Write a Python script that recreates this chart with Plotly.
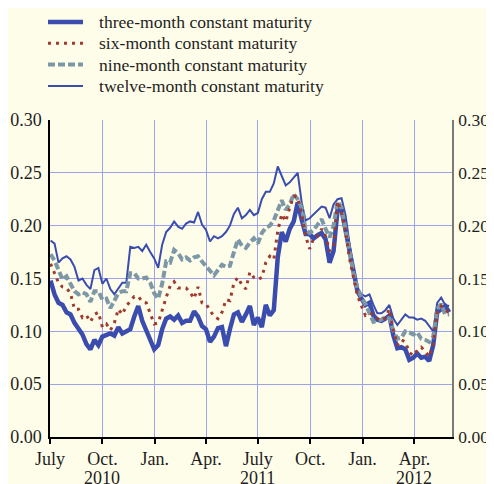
import pandas as pd
import plotly.graph_objects as go

# weekly observations (Fridays), July 2010 - May 2012
dates = pd.date_range("2010-07-02", periods=101, freq="7D")

three_month = [
    0.148, 0.135, 0.127, 0.125, 0.118, 0.116, 0.108, 0.102, 0.097, 0.088,
    0.083, 0.092, 0.087, 0.095, 0.097, 0.098, 0.096, 0.104, 0.098, 0.100,
    0.102, 0.114, 0.124, 0.110, 0.100, 0.093, 0.083, 0.087, 0.102, 0.112,
    0.114, 0.111, 0.115, 0.108, 0.110, 0.110, 0.119, 0.114, 0.105, 0.102,
    0.090, 0.095, 0.103, 0.104, 0.086, 0.102, 0.116, 0.118, 0.109, 0.116,
    0.124, 0.106, 0.113, 0.104, 0.125, 0.115, 0.120, 0.170, 0.194, 0.185,
    0.197, 0.204, 0.222, 0.206, 0.192, 0.192, 0.188, 0.191, 0.193, 0.187,
    0.165, 0.176, 0.215, 0.215, 0.195, 0.173, 0.155, 0.138, 0.131, 0.125,
    0.127, 0.115, 0.111, 0.110, 0.112, 0.115, 0.096, 0.084, 0.085, 0.083,
    0.073, 0.075, 0.079, 0.075, 0.076, 0.072, 0.087, 0.118, 0.121, 0.124,
    0.118,
]

six_month = [
    0.164, 0.155, 0.146, 0.142, 0.141, 0.136, 0.121, 0.121, 0.113, 0.115,
    0.109, 0.116, 0.118, 0.104, 0.107, 0.101, 0.108, 0.121, 0.116, 0.124,
    0.128, 0.133, 0.133, 0.128, 0.127, 0.116, 0.107, 0.108, 0.121, 0.132,
    0.143, 0.147, 0.141, 0.141, 0.141, 0.137, 0.131, 0.142, 0.127, 0.126,
    0.120, 0.114, 0.112, 0.118, 0.130, 0.129, 0.146, 0.151, 0.144, 0.140,
    0.156, 0.151, 0.149, 0.151, 0.165, 0.171, 0.168, 0.195, 0.211, 0.204,
    0.217, 0.228, 0.227, 0.211, 0.190, 0.178, 0.188, 0.190, 0.197, 0.190,
    0.176, 0.180, 0.223, 0.212, 0.195, 0.169, 0.151, 0.134, 0.124, 0.115,
    0.117, 0.116, 0.112, 0.110, 0.113, 0.121, 0.101, 0.087, 0.092, 0.090,
    0.080, 0.077, 0.082, 0.085, 0.081, 0.076, 0.088, 0.118, 0.124, 0.120,
    0.118,
]

nine_month = [
    0.173, 0.167, 0.158, 0.149, 0.152, 0.145, 0.138, 0.135, 0.137, 0.135,
    0.128, 0.138, 0.138, 0.130, 0.131, 0.122, 0.130, 0.136, 0.138, 0.138,
    0.155, 0.155, 0.150, 0.150, 0.151, 0.146, 0.136, 0.131, 0.145, 0.166,
    0.165, 0.177, 0.174, 0.168, 0.170, 0.167, 0.170, 0.171, 0.166, 0.162,
    0.157, 0.153, 0.158, 0.163, 0.161, 0.162, 0.175, 0.187, 0.181, 0.179,
    0.184, 0.188, 0.183, 0.193, 0.198, 0.200, 0.205, 0.214, 0.224, 0.215,
    0.220, 0.230, 0.225, 0.217, 0.196, 0.193, 0.196, 0.201, 0.206, 0.197,
    0.189, 0.200, 0.223, 0.217, 0.194, 0.176, 0.155, 0.141, 0.132, 0.126,
    0.117, 0.109, 0.110, 0.111, 0.114, 0.112, 0.101, 0.093, 0.094, 0.100,
    0.099, 0.097, 0.099, 0.093, 0.092, 0.090, 0.095, 0.121, 0.126, 0.116,
    0.116,
]

twelve_month = [
    0.186, 0.183, 0.165, 0.169, 0.171, 0.168, 0.161, 0.148, 0.150, 0.144,
    0.140, 0.158, 0.160, 0.145, 0.150, 0.140, 0.135, 0.140, 0.146, 0.146,
    0.180, 0.179, 0.180, 0.176, 0.182, 0.175, 0.169, 0.160, 0.182, 0.194,
    0.198, 0.204, 0.199, 0.197, 0.202, 0.204, 0.203, 0.213, 0.201, 0.196,
    0.185, 0.190, 0.188, 0.190, 0.194, 0.200, 0.211, 0.217, 0.207, 0.210,
    0.215, 0.210, 0.212, 0.225, 0.232, 0.232, 0.240, 0.256, 0.246, 0.238,
    0.241, 0.246, 0.250, 0.222, 0.205, 0.207, 0.211, 0.214, 0.218, 0.217,
    0.207, 0.220, 0.225, 0.226, 0.210, 0.183, 0.158, 0.141, 0.135, 0.133,
    0.135, 0.125, 0.117, 0.117, 0.120, 0.125, 0.112, 0.106, 0.111, 0.116,
    0.113, 0.113, 0.111, 0.112, 0.110, 0.105, 0.100, 0.127, 0.132, 0.125,
    0.124,
]

x_tickvals = ["2010-07-01", "2010-10-01", "2011-01-01", "2011-04-01",
              "2011-07-01", "2011-10-01", "2012-01-01", "2012-04-01"]
x_ticktext = ["July", "Oct.", "Jan.", "Apr.", "July", "Oct.", "Jan.", "Apr."]
year_pos = ["2010-10-01", "2011-07-01", "2012-04-01"]
year_text = ["2010", "2011", "2012"]
y_tickvals = [0.00, 0.05, 0.10, 0.15, 0.20, 0.25, 0.30]

BG = "#FEFDEA"
BLUE = "#3A4DAE"
RED = "#A0392E"
GREY = "#7C98A6"
GRID = "#9DA2EC"
FONT = "Liberation Serif, Times New Roman, serif"

series = [
    ("three-month constant maturity", three_month, dict(color=BLUE, width=4.5)),
    ("six-month constant maturity", six_month, dict(color=RED, width=3, dash="3px,5px")),
    ("nine-month constant maturity", nine_month, dict(color=GREY, width=4, dash="7px,3px")),
    ("twelve-month constant maturity", twelve_month, dict(color=BLUE, width=2)),
]
draw_order = [0, 3, 2, 1]

fig = go.Figure()
for i in draw_order:
    name, vals, line = series[i]
    fig.add_trace(go.Scatter(x=dates, y=vals, mode="lines", name=name,
                             line=line, showlegend=False))
# invisible trace so the right-hand axis is drawn
fig.add_trace(go.Scatter(x=dates[:1], y=three_month[:1], yaxis="y2",
                         mode="lines", line=dict(width=0), showlegend=False,
                         hoverinfo="skip"))

# legend drawn above the plot area (rows ~21 px apart)
plot_top, plot_h, plot_w = 120, 317, 402   # page pixels
for row, (name, vals, line) in enumerate(series):
    ypx = 22 + row * 21.3
    yp = 1 + (plot_top - ypx) / plot_h
    fig.add_shape(type="line", xref="paper", yref="paper",
                  x0=-2 / plot_w, x1=33 / plot_w, y0=yp, y1=yp,
                  line=line)
    fig.add_annotation(text=name, xref="paper", yref="paper",
                       x=47 / plot_w, y=yp, xanchor="left", yanchor="middle",
                       showarrow=False, font=dict(size=17.6))

# year labels under the month ticks (tighter than a <br> line break)
for pos, txt in zip(year_pos, year_text):
    fig.add_annotation(text=txt, x=pos, xref="x", yref="paper",
                       y=-41 / plot_h, yanchor="middle", showarrow=False,
                       font=dict(size=18))

# page body has an 8px margin, so the figure is 8px smaller than the window
fig.update_layout(
    width=486, height=476,
    paper_bgcolor=BG, plot_bgcolor=BG,
    margin=dict(l=42, r=42, t=112, b=47, autoexpand=False),
    font=dict(family=FONT, size=18, color="#1E1E1E"),
    showlegend=False,
    xaxis=dict(
        type="date", range=["2010-07-01", "2012-06-06"],
        tickvals=x_tickvals, ticktext=x_ticktext,
        showgrid=True, gridcolor=GRID, gridwidth=1,
        showline=True, linecolor="#000000", linewidth=1.5,
        ticks="outside", ticklen=5, tickwidth=1.5, tickcolor="#000000",
        zeroline=False, tickfont=dict(size=18),
    ),
    yaxis=dict(
        range=[0, 0.30], tickvals=y_tickvals, tickformat=".2f",
        showgrid=True, gridcolor=GRID, gridwidth=1,
        showline=True, linecolor="#000000", linewidth=1.5,
        zeroline=False, ticks="", ticklabelstandoff=3,
    ),
    yaxis2=dict(
        range=[0, 0.30], tickvals=y_tickvals, tickformat=".2f",
        overlaying="y", side="right", showgrid=False,
        showline=True, linecolor="#7A7A7A", linewidth=1.5,
        zeroline=False, ticks="", ticklabelstandoff=1,
        tickfont=dict(size=17.5),
    ),
)

fig.write_html("out.html")
